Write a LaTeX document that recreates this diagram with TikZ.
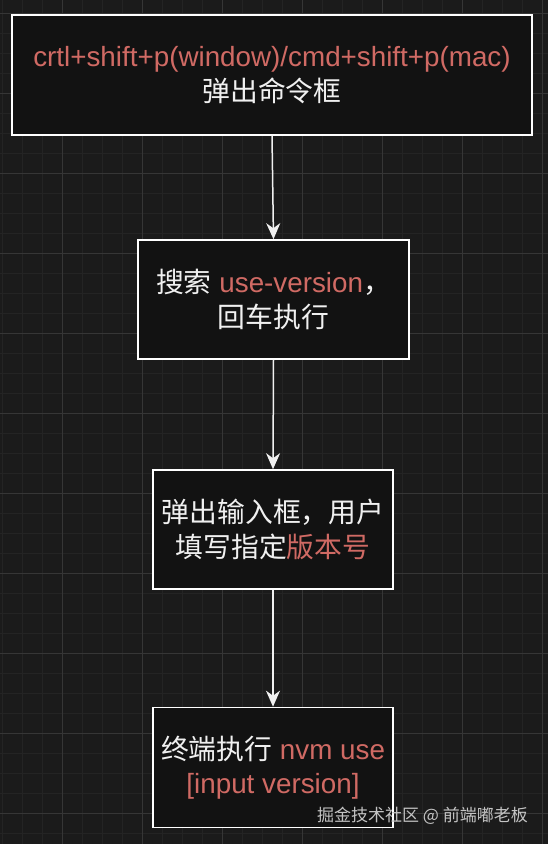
\documentclass[tikz,border=0pt]{standalone}
\usepackage{fontspec}
\setmainfont{Liberation Sans}
\newfontfamily\cjk{Noto Sans CJK SC}
\usetikzlibrary{arrows.meta}
\definecolor{bgc}{HTML}{1B1B1B}
\definecolor{minorc}{HTML}{242424}
\definecolor{majorc}{HTML}{363636}
\definecolor{boxfill}{HTML}{121212}
\definecolor{txtred}{HTML}{D06A64}
\definecolor{txtwhite}{HTML}{F0F0F0}
\definecolor{wmark}{HTML}{C4C4C4}
\tikzset{
  stepbox/.style={draw=white, line width=1.6pt, fill=boxfill, rectangle,
    inner sep=0pt, align=center, text=txtwhite,
    font=\fontsize{27.8}{34.5}\selectfont},
  arr/.style={draw=txtwhite, line width=1.5pt,
    -{Stealth[length=16pt,width=14pt,inset=5pt]}},
}
\newcommand{\rd}[1]{\textcolor{txtred}{#1}}
\begin{document}
\begin{tikzpicture}[x=1pt,y=-1pt]
\useasboundingbox (0,0) rectangle (548,844);
\fill[bgc] (0,0) rectangle (548,844);
% minor grid
\foreach \gx in {2,22,...,548} \draw[minorc, line width=0.8pt] (\gx,0) -- (\gx,844);
\foreach \gy in {13,33,...,844} \draw[minorc, line width=0.8pt] (0,\gy) -- (548,\gy);
% major grid
\foreach \gx in {62,142,...,548} \draw[majorc, line width=0.9pt] (\gx,0) -- (\gx,844);
\foreach \gy in {13,93,...,844} \draw[majorc, line width=0.9pt] (0,\gy) -- (548,\gy);

\node[stepbox, minimum width=520pt, minimum height=120pt] (b1) at (272,75)
  {\rd{crtl+shift+p(window)/cmd+shift+p(mac)}\\ \cjk 弹出命令框};
\node[stepbox, minimum width=271pt, minimum height=119pt] (b2) at (273.5,299.5)
  {{\cjk 搜索} \rd{use-version}{\cjk ，}\\ {\cjk 回车执行}};
\node[stepbox, minimum width=240pt, minimum height=119pt] (b3) at (273,529.5)
  {{\cjk 弹出输入框，用户}\\ {\cjk 填写指定\rd{版本号}}};
\node[stepbox, minimum width=240pt, minimum height=120pt] (b4) at (273,767.5)
  {{\cjk 终端执行} \rd{nvm use}\\ \rd{[input version]}};

\draw[arr] (b1.south) -- (b2.north);
\draw[arr] (b2.south) -- (b3.north);
\draw[arr] (b3.south) -- (b4.north);

\node[text=wmark, font=\cjk\fontsize{17}{20}\selectfont, inner sep=0pt, anchor=east] (wm) at (528,816) {掘金技术社区 @ 前端嘟老板};
\end{tikzpicture}
\end{document}
